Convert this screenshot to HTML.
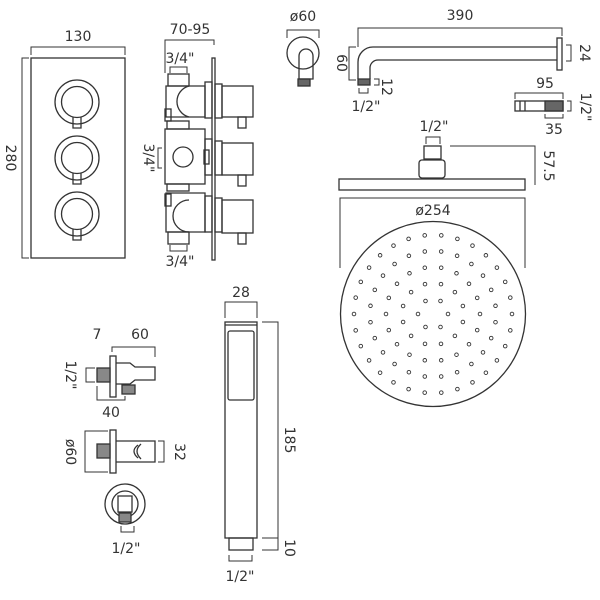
<!DOCTYPE html>
<html><head><meta charset="utf-8"><style>
html,body{margin:0;padding:0;background:#fff;}
svg{display:block}
text{font-family:"DejaVu Sans","Liberation Sans",sans-serif;font-size:14px;fill:#333;}
</style></head><body>
<svg id="s" width="600" height="600" viewBox="0 0 600 600" xmlns="http://www.w3.org/2000/svg" fill="none" stroke="#333" stroke-width="1.3">
<!-- Panel -->
<rect x="31" y="58" width="94" height="200"/>
<path d="M31 55V47H125V55" stroke-width="1"/>
<path d="M29 58H22V258H29" stroke-width="1"/>
<text x="78" y="41" text-anchor="middle" stroke="none">130</text>
<text transform="translate(6,158) rotate(90)" text-anchor="middle" stroke="none">280</text>
<g id="knobs">
<circle cx="77" cy="102" r="22"/><circle cx="77" cy="102" r="15.5"/><path d="M73 117V128H81V117"/>
<circle cx="77" cy="158" r="22"/><circle cx="77" cy="158" r="15.5"/><path d="M73 173V184H81V173"/>
<circle cx="77" cy="214" r="22"/><circle cx="77" cy="214" r="15.5"/><path d="M73 229V240H81V229"/>
</g>
<!-- Valve -->
<path d="M165 73V40H214V45" stroke-width="1"/>
<text x="190" y="34" text-anchor="middle" stroke="none">70-95</text>
<path d="M170 73V67H187V73" stroke-width="1"/>
<text x="180" y="63" text-anchor="middle" stroke="none">3/4"</text>
<rect x="212" y="58" width="3" height="202"/>
<rect x="168" y="74" width="21" height="12"/>
<path d="M166 86H205V117H166Z"/>
<path d="M189 86A16 16 0 0 0 189 117"/>
<rect x="165" y="109" width="6" height="12"/>
<rect x="167" y="121" width="22" height="8"/>
<rect x="165" y="129" width="40" height="55"/>
<circle cx="183" cy="157" r="10"/>
<rect x="204" y="150" width="5" height="14"/>
<rect x="167" y="184" width="22" height="7"/>
<path d="M166 193H205V232H166Z"/>
<path d="M189 200A16 16 0 0 0 189 232"/>
<rect x="165" y="194" width="6" height="12"/>
<rect x="168" y="232" width="21" height="12"/>
<path d="M170 245V251H187V245" stroke-width="1"/>
<text x="180" y="266" text-anchor="middle" stroke="none">3/4"</text>
<path d="M162 148H158V168H162" stroke-width="1"/>
<text transform="translate(144,158) rotate(90)" text-anchor="middle" stroke="none">3/4"</text>
<g>
<rect x="205" y="82" width="7" height="36"/><rect x="215" y="84" width="7" height="34"/><rect x="222" y="86" width="31" height="31"/><rect x="238" y="117" width="8" height="11"/>
<rect x="205" y="139" width="7" height="36"/><rect x="215" y="141" width="7" height="34"/><rect x="222" y="143" width="31" height="32"/><rect x="238" y="175" width="8" height="11"/>
<rect x="205" y="196" width="7" height="36"/><rect x="215" y="198" width="7" height="34"/><rect x="222" y="200" width="31" height="33"/><rect x="238" y="233" width="8" height="11"/>
</g>
<!-- wall elbow -->
<path d="M287 38V30H319V38" stroke-width="1"/>
<text x="303" y="21" text-anchor="middle" stroke="none">ø60</text>
<circle cx="303" cy="53" r="16"/>
<path d="M299 79V56A7 7 0 0 1 313 56V79Z"/>
<rect x="298" y="79" width="12" height="7" fill="#666"/>
<!-- arm -->
<path d="M358 47V28H562V36" stroke-width="1"/>
<text x="460" y="20" text-anchor="middle" stroke="none">390</text>
<path d="M358 79V62A15 15 0 0 1 373 47H557M370 79V68A8 8 0 0 1 378 60H557"/>
<rect x="557" y="38" width="5" height="32"/>
<rect x="358" y="79" width="12" height="6" fill="#666"/>
<path d="M356 47H349V80H356" stroke-width="1"/>
<text transform="translate(337,63) rotate(90)" text-anchor="middle" stroke="none">60</text>
<path d="M566 45H571V61H566" stroke-width="1"/>
<text transform="translate(580,53) rotate(90)" text-anchor="middle" stroke="none">24</text>
<path d="M374 79H379V85H374" stroke-width="1"/>
<text transform="translate(382,87) rotate(90)" text-anchor="middle" stroke="none">12</text>
<path d="M359 88V93H368V88" stroke-width="1"/>
<text x="366" y="111" text-anchor="middle" stroke="none">1/2"</text>
<!-- nozzle -->
<path d="M515 99V93H563V99" stroke-width="1"/>
<text x="545" y="88" text-anchor="middle" stroke="none">95</text>
<rect x="515" y="101" width="48" height="10"/>
<rect x="545" y="101" width="18" height="10" fill="#666"/>
<path d="M520 101V111M525 101V111"/>
<path d="M567 101H571V111H567" stroke-width="1"/>
<text transform="translate(581,107) rotate(90)" text-anchor="middle" stroke="none">1/2"</text>
<path d="M545 114V118H563V114" stroke-width="1"/>
<text x="554" y="134" text-anchor="middle" stroke="none">35</text>
<!-- head -->
<path d="M426 144V137H440V144" stroke-width="1"/>
<text x="434" y="131" text-anchor="middle" stroke="none">1/2"</text>
<rect x="424" y="146" width="17" height="13"/>
<rect x="419" y="160" width="26" height="18" rx="3"/>
<rect x="339" y="179" width="186" height="11"/>
<path d="M450 146H535V185" stroke-width="1"/>
<text transform="translate(544,166) rotate(90)" text-anchor="middle" stroke="none">57.5</text>
<path d="M340 268V198H525V268" stroke-width="1"/>
<text x="433" y="215" text-anchor="middle" stroke="none">ø254</text>
<circle cx="433" cy="314" r="92.5"/>
<g id="dots" stroke-width="0.9"></g>
<!-- outlet elbow 1 -->
<text x="97" y="339" text-anchor="middle" stroke="none">7</text>
<text x="140" y="339" text-anchor="middle" stroke="none">60</text>
<path d="M112 352V347H155V357" stroke-width="1"/>
<rect x="110" y="356" width="6" height="41"/>
<rect x="97" y="368" width="13" height="14" fill="#888"/>
<path d="M116 363H130L135 367H155V380H135L130 384H116"/>
<rect x="122" y="385" width="13" height="9" fill="#888"/>
<path d="M95 368H86V382H95" stroke-width="1"/>
<text transform="translate(66,375) rotate(90)" text-anchor="middle" stroke="none">1/2"</text>
<path d="M97 386V400H125V396" stroke-width="1"/>
<text x="111" y="417" text-anchor="middle" stroke="none">40</text>
<!-- outlet elbow 2 -->
<path d="M108 431H85V472H108" stroke-width="1"/>
<text transform="translate(66,452) rotate(90)" text-anchor="middle" stroke="none">ø60</text>
<rect x="110" y="430" width="6" height="43"/>
<rect x="97" y="444" width="13" height="14" fill="#888"/>
<path d="M116 441H155V462H116"/>
<path d="M138 445Q130 451 138 458M141 444Q133 451 141 459"/>
<path d="M158 441H164V462H158" stroke-width="1"/>
<text transform="translate(175,452) rotate(90)" text-anchor="middle" stroke="none">32</text>
<!-- outlet 3 -->
<circle cx="125" cy="504" r="20"/>
<circle cx="125" cy="504" r="13"/>
<rect x="118" y="496" width="14" height="16"/>
<rect x="119" y="513" width="12" height="9" fill="#888"/>
<path d="M121 526V532H134V526" stroke-width="1"/>
<text x="126" y="553" text-anchor="middle" stroke="none">1/2"</text>
<!-- handset -->
<path d="M225 318V302H257V318" stroke-width="1"/>
<text x="241" y="297" text-anchor="middle" stroke="none">28</text>
<rect x="225" y="322" width="32" height="216"/>
<path d="M225 325H257"/>
<rect x="228" y="331" width="26" height="69" rx="2"/>
<rect x="229" y="538" width="24" height="12"/>
<path d="M262 322H278V538H262M262 550H278V538" stroke-width="1"/>
<text transform="translate(285,440) rotate(90)" text-anchor="middle" stroke="none">185</text>
<text transform="translate(285,548) rotate(90)" text-anchor="middle" stroke="none">10</text>
<path d="M229 555V561H252V555" stroke-width="1"/>
<text x="240" y="581" text-anchor="middle" stroke="none">1/2"</text>
</svg>
<script>
var g=document.getElementById('dots'),cx=433,cy=314,R=[[15,6],[31,12],[47,18],[63,24],[79,30]];
R.forEach(function(r,i){for(var k=0;k<r[1];k++){var a=2*Math.PI*k/r[1]+(i%2?Math.PI/r[1]:0);var c=document.createElementNS('http://www.w3.org/2000/svg','circle');c.setAttribute('cx',(cx+r[0]*Math.cos(a)).toFixed(1));c.setAttribute('cy',(cy+r[0]*Math.sin(a)).toFixed(1));c.setAttribute('r','1.8');g.appendChild(c);}});
</script>
</body></html>
